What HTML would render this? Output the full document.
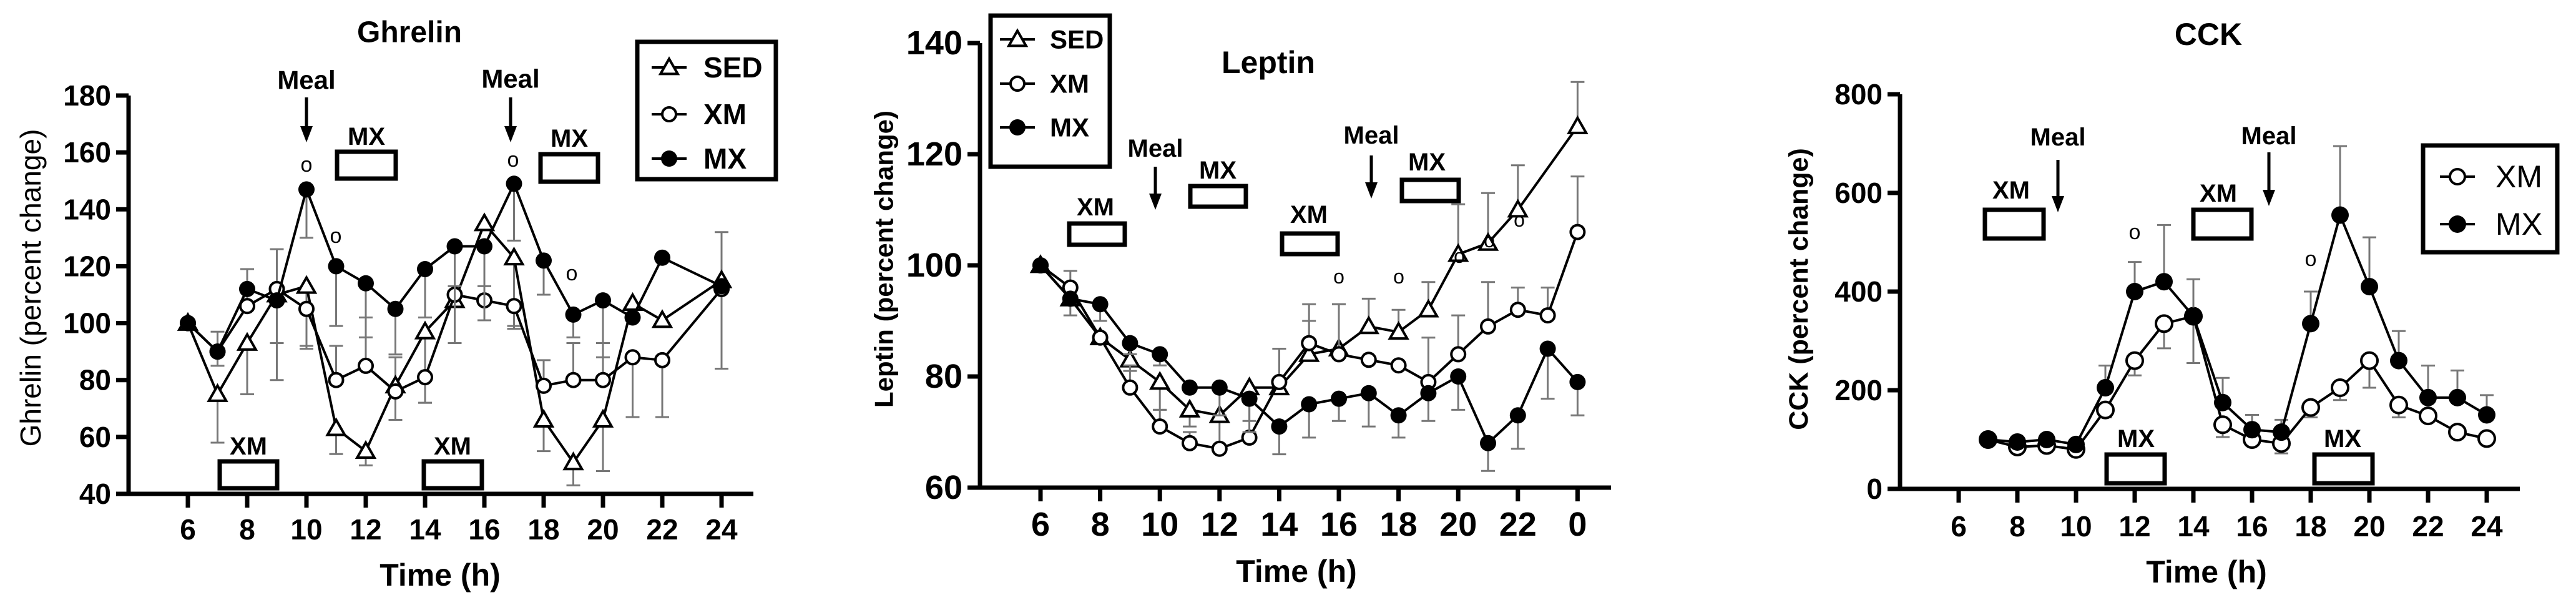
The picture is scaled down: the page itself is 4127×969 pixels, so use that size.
<!DOCTYPE html>
<html><head><meta charset="utf-8"><style>
html,body{margin:0;padding:0;background:#fff;}
svg{display:block;}
.b{font-family:"Liberation Sans",sans-serif;font-weight:bold;}
.n{font-family:"Liberation Sans Narrow","Liberation Sans",sans-serif;font-weight:bold;}
.r{font-family:"Liberation Sans",sans-serif;}
</style></head><body>
<svg id="fig" width="4127" height="969" viewBox="0 0 4127 969" xmlns="http://www.w3.org/2000/svg"></svg>
<script>
// ---------- Ghrelin data ----------
const gHours=[6,7,8,9,10,11,12,13,14,15,16,17,18,19,20,21,22,24];
const gSED=[100,75,93,110,113,63,55,78,97,108,135,123,66,51,66,107,101,115];
const gXM=[100,90,106,112,105,80,85,76,81,110,108,106,78,80,80,88,87,112];
const gMX=[100,90,112,108,147,120,114,105,119,127,127,149,122,103,108,102,123,113];
const gSEDerr=[0,-17,-18,-30,-22,-9,-5,10,-25,-15,0,-25,-11,-8,-18,0,0,17];
const gXMerr=[0,7,13,14,-13,12,17,-10,-9,3,5,-7,9,13,13,-21,-20,-28];
const gMXerr=[0,-5,7,-15,-17,-21,-19,-16,-17,-34,-26,-20,-12,-8,-20,0,0,0];
const gYTicks=[40,60,80,100,120,140,160,180];
const gXTicks=[6,8,10,12,14,16,18,20,22,24];
const gXLabels=["6","8","10","12","14","16","18","20","22","24"];
// ---------- Leptin data ----------
const lHours=[6,7,8,9,10,11,12,13,14,15,16,17,18,19,20,21,22,23,24];
const lSED=[100,94,87,83,79,74,73,78,78,84,85,89,88,92,102,104,110,null,125];
const lXM=[100,96,87,78,71,68,67,69,79,86,84,83,82,79,84,89,92,91,106];
const lMX=[100,94,93,86,84,78,78,76,71,75,76,77,73,77,80,68,73,85,79];
const lSEDerr=[0,-3,0,-2,-5,-3,-6,-6,7,6,8,5,4,5,9,9,8,0,8];
const lXMerr=[0,3,0,4,3,2,0,0,6,7,9,0,0,8,7,8,4,5,10];
const lMXerr=[0,0,-3,-2,-2,0,-5,-6,-5,-6,-4,-6,-4,-5,-6,-5,-6,-9,-6];
const lYTicks=[60,80,100,120,140];
const lXTicks=[6,8,10,12,14,16,18,20,22,24];
const lXLabels=["6","8","10","12","14","16","18","20","22","0"];
// ---------- CCK data ----------
const cHours=[7,8,9,10,11,12,13,14,15,16,17,18,19,20,21,22,23,24];
const cXM=[100,85,88,80,160,260,335,350,130,100,92,165,205,260,170,148,115,102];
const cMX=[100,95,100,90,205,400,420,350,175,120,115,335,555,410,260,185,185,150];
const cXMerr=[0,0,0,0,-15,-30,-50,-95,-25,-10,-20,-20,-25,-55,-25,0,0,0];
const cMXerr=[0,0,0,0,45,60,115,75,50,30,25,65,140,100,60,65,55,40];
const cYTicks=[0,200,400,600,800];
const cXTicks=[6,8,10,12,14,16,18,20,22,24];
const cXLabels=["6","8","10","12","14","16","18","20","22","24"];

const NS="http://www.w3.org/2000/svg";
const svg=document.getElementById('fig');
function mk(tag,attrs,parent){const e=document.createElementNS(NS,tag);for(const k in attrs)e.setAttribute(k,attrs[k]);(parent||svg).appendChild(e);return e;}
function txt(s,x,y,cls,size,anchor,parent,extra){const t=mk('text',Object.assign({x:x,y:y,'class':cls,'font-size':size,'text-anchor':anchor||'middle','dominant-baseline':'central'},extra||{}),parent);t.textContent=s;return t;}

function axes(g,P,yTicks,xTicks,xLabels,tickCls,tickSize){
  const xs=h=>P.x0+(h-P.h0)*P.px;
  const ys=v=>P.yb-(v-P.vmin)/(P.vmax-P.vmin)*(P.yb-P.yt);
  const ax=mk('path',{d:`M${P.ax},${ys(P.vmax)}V${P.yb}H${P.xend}`,stroke:'#000','stroke-width':7,fill:'none'},g);
  
  yTicks.forEach(v=>{
    const l=mk('line',{x1:P.ax-20,x2:P.ax,y1:ys(v),y2:ys(v),stroke:'#000','stroke-width':7},g);
    
    const t=txt(String(v),P.ax-28,ys(v),tickCls,tickSize,'end',g);
    
  });
  xTicks.forEach((h,i)=>{
    const l=mk('line',{x1:xs(h),x2:xs(h),y1:P.yb,y2:P.yb+22,stroke:'#000','stroke-width':7},g);
    
    const t=txt(xLabels[i],xs(h),P.labY,tickCls,tickSize,'middle',g);
    
  });
  return {xs,ys};
}
function series(g,S,hours,vals,errs,type,name,r){
  const {xs,ys}=S;
  hours.forEach((h,i)=>{
    if(vals[i]==null||!errs[i])return;
    const y1=ys(vals[i]),y2=ys(vals[i]+errs[i]);
    const e=mk('path',{d:`M${xs(h)},${y1}V${y2}M${xs(h)-11},${y2}H${xs(h)+11}`,stroke:'#777','stroke-width':3,fill:'none'},g);
    
  });
  let d='';hours.forEach((h,i)=>{if(vals[i]==null)return;d+=(d?'L':'M')+xs(h)+','+ys(vals[i]);});
  const ln=mk('path',{d:d,stroke:'#000','stroke-width':4,fill:'none'},g);
  
  hours.forEach((h,i)=>{
    if(vals[i]==null)return;
    const m=marker(g,type,xs(h),ys(vals[i]),r);
    
  });
}
function marker(g,type,x,y,r){
  if(type==='tri'){const s=r*1.15;return mk('path',{d:`M${x},${y-s}L${x+s},${y+s*0.75}L${x-s},${y+s*0.75}Z`,fill:'#fff',stroke:'#000','stroke-width':4},g);}
  if(type==='open')return mk('circle',{cx:x,cy:y,r:r-1,fill:'#fff',stroke:'#000','stroke-width':4},g);
  return mk('circle',{cx:x,cy:y,r:r+1,fill:'#000'},g);
}
function box(g,x1,y1,x2,y2,name){const b=mk('rect',{x:x1,y:y1,width:x2-x1,height:y2-y1,fill:'none',stroke:'#000','stroke-width':7},g);}
function meal(g,x,ty,y1,y2,size){
  const t=txt('Meal',x,ty,'n',size,'middle',g);
  const a=mk('path',{d:`M${x},${y1}V${y2-22}`,stroke:'#000','stroke-width':5},g);
  const h=mk('path',{d:`M${x-10},${y2-26}L${x+10},${y2-26}L${x},${y2}Z`,fill:'#000'},g);
}
function lab(g,s,x,y,cls,size,name,anchor){const t=txt(s,x,y,cls,size,anchor||'middle',g);return t;}
function legend(g,x1,y1,x2,y2,items,lx,tx,cls,size,r){
  box(g,x1,y1,x2,y2,'legend-box');
  items.forEach(it=>{
    const l=mk('line',{x1:lx-28,x2:lx+28,y1:it.y,y2:it.y,stroke:'#000','stroke-width':4},g);
    const m=marker(g,it.type,lx,it.y,r);
    lab(g,it.label,tx,it.y,cls,size,'legend-entry','start');
  });
}

// ===== Ghrelin =====
const gG=mk('g',{});
const GP={ax:206,x0:301,h0:6,px:47.5,yb:791,yt:153,vmin:40,vmax:180,xend:1207,labY:848};
const GS=axes(gG,GP,gYTicks,gXTicks,gXLabels,'b',46);
series(gG,GS,gHours,gSED,gSEDerr,'tri','sed',12);
series(gG,GS,gHours,gXM,gXMerr,'open','xm',12);
series(gG,GS,gHours,gMX,gMXerr,'fill','mx',12);
lab(gG,'Ghrelin',656,52,'n',48,'chart-title');
lab(gG,'Time (h)',705,921,'n',50,'x-axis-title');
lab(gG,'Ghrelin (percent change)',49,461,'r',46,'y-axis-title').setAttribute('transform','rotate(-90 49 461)');
legend(gG,1021,67,1243,287,[{type:'tri',label:'SED',y:108},{type:'open',label:'XM',y:183},{type:'fill',label:'MX',y:254}],1072,1127,'b',46,12);
meal(gG,491,128,156,228,42);meal(gG,818,126,156,228,42);
lab(gG,'MX',587,219,'n',40,'mx-label');box(gG,540,243,634,286,'mx-box');
lab(gG,'MX',912,222,'n',40,'mx-label');box(gG,866,247,958,291,'mx-box');
lab(gG,'XM',398,715,'n',40,'xm-label');box(gG,352,739,444,782,'xm-box');
lab(gG,'XM',725,715,'n',40,'xm-label');box(gG,679,739,772,782,'xm-box');
[[491,264],[538,378],[822,256],[916,438]].forEach(p=>lab(gG,'o',p[0],p[1],'r',34,'significance-mark'));

// ===== Leptin =====
const gL=mk('g',{});
const LP={ax:1570,x0:1667,h0:6,px:47.8,yb:781,yt:69,vmin:60,vmax:140,xend:2581,labY:840};
const LS=axes(gL,LP,lYTicks,lXTicks,lXLabels,'n',54);
series(gL,LS,lHours,lSED,lSEDerr,'tri','sed',12);
series(gL,LS,lHours,lXM,lXMerr,'open','xm',12);
series(gL,LS,lHours,lMX,lMXerr,'fill','mx',12);
lab(gL,'Leptin',2032,100,'n',50,'chart-title');
lab(gL,'Time (h)',2077,915,'n',50,'x-axis-title');
lab(gL,'Leptin (percent change)',1416,415,'b',42,'y-axis-title').setAttribute('transform','rotate(-90 1416 415)');
legend(gL,1587,25,1778,267,[{type:'tri',label:'SED',y:63},{type:'open',label:'XM',y:134},{type:'fill',label:'MX',y:204}],1630,1682,'n',42,12);
lab(gL,'XM',1755,332,'n',40,'xm-label');box(gL,1713,358,1802,392,'xm-box');
meal(gL,1851,238,267,336,40);
lab(gL,'MX',1951,273,'n',40,'mx-label');box(gL,1907,298,1996,331,'mx-box');
lab(gL,'XM',2097,344,'n',40,'xm-label');box(gL,2054,374,2143,407,'xm-box');
meal(gL,2197,217,249,318,40);
lab(gL,'MX',2286,260,'n',40,'mx-label');box(gL,2246,288,2337,322,'mx-box');
[[2145,443],[2241,443],[2338,410],[2386,385],[2434,352]].forEach(p=>lab(gL,'o',p[0],p[1],'r',32,'significance-mark'));

// ===== CCK =====
const gC=mk('g',{});
const CP={ax:3044,x0:3138,h0:6,px:47.0,yb:783,yt:151,vmin:0,vmax:800,xend:4037,labY:843};
const CS=axes(gC,CP,cYTicks,cXTicks,cXLabels,'b',46);
series(gC,CS,cHours,cXM,cXMerr,'open','xm',14);
series(gC,CS,cHours,cMX,cMXerr,'fill','mx',13);
lab(gC,'CCK',3538,55,'n',50,'chart-title');
lab(gC,'Time (h)',3535,916,'n',50,'x-axis-title');
lab(gC,'CCK (percent change)',2882,463,'b',43,'y-axis-title').setAttribute('transform','rotate(-90 2882 463)');
legend(gC,3882,233,4097,404,[{type:'open',label:'XM',y:283},{type:'fill',label:'MX',y:359}],3937,3998,'r',50,13);
lab(gC,'XM',3222,305,'n',40,'xm-label');box(gC,3180,336,3274,382,'xm-box');
meal(gC,3297,220,256,340,40);
lab(gC,'XM',3554,310,'n',40,'xm-label');box(gC,3514,336,3607,382,'xm-box');
meal(gC,3635,218,244,330,40);
lab(gC,'MX',3422,703,'n',40,'mx-label');box(gC,3375,728,3468,774,'mx-box');
lab(gC,'MX',3753,703,'n',40,'mx-label');box(gC,3708,728,3801,774,'mx-box');
[[3420,372],[3702,415]].forEach(p=>lab(gC,'o',p[0],p[1],'r',34,'significance-mark'));
</script>
</body></html>
